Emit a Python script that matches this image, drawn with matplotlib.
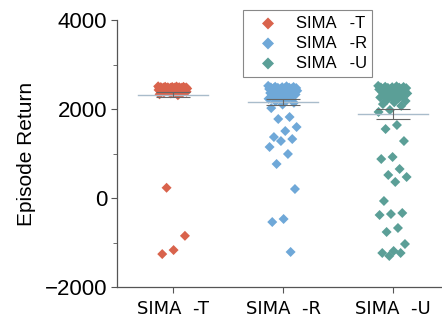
import numpy as np
import matplotlib
matplotlib.use('Agg')
import matplotlib.pyplot as plt
from matplotlib.ticker import MultipleLocator

# data
groups = ['SIMA  -T', 'SIMA  -R', 'SIMA  -U']
colors = ['#d9634c', '#6fa8d8', '#5b9f97']

returns_t = [2510, 2505, 2500, 2498, 2495, 2492, 2490, 2488, 2485, 2483, 2482, 2480,
             2478, 2476, 2475, 2472, 2470, 2468, 2467, 2465, 2462, 2460, 2458, 2457,
             2455, 2452, 2450, 2448, 2447, 2445, 2442, 2440, 2436, 2432, 2428, 2425,
             2420, 2415, 2410, 2405, 2400, 2395, 2388, 2380, 2370, 2360, 2350, 2330,
             2310, 230, -850, -1170, -1260]
returns_r = [2520, 2510, 2500, 2495, 2490, 2485, 2480, 2476, 2472, 2468, 2465, 2460,
             2455, 2450, 2445, 2440, 2435, 2430, 2425, 2420, 2415, 2410, 2400, 2390,
             2380, 2370, 2360, 2350, 2340, 2325, 2310, 2290, 2270, 2250, 2230, 2200,
             2170, 2140, 2100, 2020, 1820, 1775, 1595, 1505, 1370, 1325, 1280, 1146,
             989, 764, 202, -472, -540, -1213]
returns_u = [2520, 2510, 2500, 2495, 2490, 2485, 2480, 2475, 2470, 2465, 2460, 2455,
             2450, 2440, 2430, 2420, 2410, 2400, 2390, 2380, 2365, 2350, 2335, 2320,
             2300, 2280, 2260, 2240, 2210, 2180, 2150, 2110, 2070, 1978, 1933, 1640,
             1550, 1280, 921, 876, 652, 517, 472, 360, -67, -337, -360, -382, -674,
             -764, -1034, -1191, -1236, -1236, -1303]
all_returns = [returns_t, returns_r, returns_u]

means = [2325, 2157, 1888]
errors = [55, 65, 112]

plt.rcParams['font.family'] = ['Liberation Sans', 'DejaVu Sans']

fig = plt.figure(figsize=(4.42, 3.24), dpi=100)
ax = fig.add_axes([117 / 442, 37 / 324, 324 / 442, 267 / 324])

phi = (np.sqrt(5) - 1) / 2
for i, vals in enumerate(all_returns):
    vals = np.array(vals)
    # deterministic low-discrepancy jitter
    jit = ((np.arange(len(vals)) * phi) % 1.0 - 0.5) * 0.27
    ax.scatter(i + jit, vals, marker='D', s=26, color=colors[i],
               edgecolors='none', zorder=2, label=groups[i].replace('  ', '   '))
    # mean line
    ax.plot([i - 0.32, i + 0.32], [means[i], means[i]], color='#a9bccb', lw=1.0, zorder=3)
    # error bar
    ax.errorbar(i, means[i], yerr=errors[i], color='#666666', lw=0.8,
                capsize=12, capthick=0.8, zorder=3)

ax.set_xlim(-0.509, 2.436)
ax.set_ylim(-2000, 4000)
ax.yaxis.set_major_locator(MultipleLocator(2000))
ax.yaxis.set_minor_locator(MultipleLocator(1000))
ax.set_xticks(range(3))
ax.set_xticklabels(groups, family='DejaVu Sans', fontsize=13)
ax.tick_params(axis='y', labelsize=16, direction='out', length=4, color='#555555', pad=3)
ax.tick_params(axis='y', which='minor', length=3, color='#555555')
ax.tick_params(axis='x', direction='out', length=4, color='#555555', pad=5)
ax.set_ylabel('Episode Return', fontsize=15, labelpad=6)
for s in ['top', 'right']:
    ax.spines[s].set_visible(False)
for s in ['left', 'bottom']:
    ax.spines[s].set_color('#555555')
    ax.spines[s].set_linewidth(0.9)

leg = fig.legend(loc='upper left', bbox_to_anchor=(243 / 442, 1 - 10 / 324),
                 fontsize=12, fancybox=False, edgecolor='#888888', framealpha=1,
                 handlelength=2.3, handletextpad=0.5, labelspacing=0.3,
                 borderpad=0.35, borderaxespad=0, markerscale=1.2)
leg.get_frame().set_linewidth(0.8)

fig.savefig('out.png', dpi=100)
